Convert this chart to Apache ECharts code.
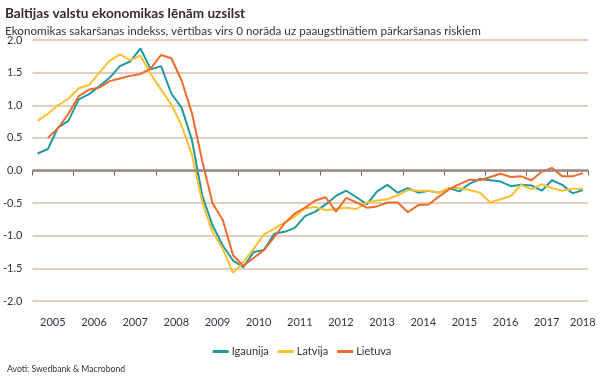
<!DOCTYPE html>
<html>
<head>
<meta charset="utf-8">
<script src="https://cdn.jsdelivr.net/npm/echarts@6/dist/echarts.min.js"></script>
<style>
  html, body { margin: 0; padding: 0; background: #fff; }
  #chart { width: 604px; height: 377px; }
</style>
</head>
<body>
<div id="chart"></div>
<script>
// 季度 2005Q1 - 2018Q2
const years = ['2005', '2006', '2007', '2008', '2009', '2010', '2011', '2012', '2013', '2014', '2015', '2016', '2017', '2018'];
const quarters = [];
years.forEach(y => {
  ['Q1', 'Q2', 'Q3', 'Q4'].forEach(q => quarters.push(y + '-' + q));
});
quarters.length = 54;

const igaunija = [
  0.26, 0.33, 0.66, 0.76, 1.09, 1.17, 1.29, 1.42, 1.60, 1.67, 1.87, 1.55, 1.60, 1.18,
  0.96, 0.47, -0.38, -0.84, -1.15, -1.38, -1.48, -1.25, -1.22, -0.97, -0.94, -0.88,
  -0.70, -0.63, -0.52, -0.39, -0.31, -0.41, -0.52, -0.32, -0.22, -0.34, -0.27, -0.34,
  -0.31, -0.34, -0.27, -0.32, -0.20, -0.13, -0.15, -0.17, -0.24, -0.22, -0.23, -0.31,
  -0.15, -0.22, -0.35, -0.30
];
const latvija = [
  0.76, 0.87, 1.00, 1.10, 1.26, 1.31, 1.50, 1.68, 1.78, 1.69, 1.76, 1.48, 1.24, 1.01,
  0.69, 0.24, -0.48, -0.94, -1.20, -1.57, -1.40, -1.20, -0.98, -0.89, -0.80, -0.71,
  -0.58, -0.56, -0.61, -0.59, -0.57, -0.59, -0.49, -0.46, -0.44, -0.38, -0.30, -0.31,
  -0.31, -0.34, -0.27, -0.27, -0.30, -0.34, -0.49, -0.44, -0.39, -0.22, -0.29, -0.21,
  -0.27, -0.31, -0.28, -0.28
];
const lietuva = [
  null, 0.50, 0.65, 0.87, 1.14, 1.24, 1.27, 1.37, 1.41, 1.45, 1.48, 1.56, 1.77, 1.72,
  1.38, 0.88, 0.15, -0.50, -0.76, -1.30, -1.46, -1.34, -1.22, -1.02, -0.81, -0.66,
  -0.57, -0.46, -0.41, -0.63, -0.42, -0.49, -0.57, -0.55, -0.49, -0.49, -0.64, -0.53,
  -0.52, -0.40, -0.29, -0.21, -0.14, -0.15, -0.10, -0.05, -0.10, -0.09, -0.15, -0.02,
  0.04, -0.09, -0.09, -0.04
];

const colors = ['#1f99a0', '#fdc02f', '#ef6b2b'];
const fontName = 'Lato';

function lineSeries(name, data) {
  return {
    name: name,
    type: 'line',
    data: data,
    symbol: 'none',
    lineStyle: { width: 2 }
  };
}

const myChart = echarts.init(document.getElementById('chart'));
myChart.setOption({
  color: colors,
  animation: false,
  textStyle: { fontFamily: fontName },
  title: [
    {
      text: 'Baltijas valstu ekonomikas lēnām uzsilst',
      left: 0, top: 2,
      textStyle: { fontSize: 13.6, fontWeight: 'bold', color: '#3b2a2a', fontFamily: fontName }
    },
    {
      text: 'Ekonomikas sakaršanas indekss, vērtības virs 0 norāda uz paaugstinātiem pārkaršanas riskiem',
      left: 0, top: 20,
      textStyle: { fontSize: 11.7, fontWeight: 'normal', color: '#333', fontFamily: fontName }
    },
    {
      text: 'Avoti: Swedbank & Macrobond',
      left: 2, top: 360,
      textStyle: { fontSize: 8.7, fontWeight: 'normal', color: '#333', fontFamily: fontName }
    }
  ],
  legend: {
    data: ['Igaunija', 'Latvija', 'Lietuva'],
    left: 'center',
    top: 341,
    icon: 'rect',
    itemWidth: 16,
    itemHeight: 3,
    itemGap: 9,
    textStyle: { fontSize: 11, color: '#333', padding: [0, 0, 0, -2] }
  },
  grid: { left: 28, right: 16, top: 40, bottom: 76 },
  xAxis: {
    type: 'category',
    data: quarters,
    boundaryGap: true,
    offset: 7,
    axisLine: { show: false },
    axisTick: {
      show: true,
      length: 5,
      interval: (index) => index % 4 === 0,
      lineStyle: { color: '#6b5b5b', width: 1 }
    },
    axisLabel: {
      interval: (index) => index % 4 === 1,
      margin: 9,
      fontSize: 11,
      color: '#3c3040',
      formatter: (value, index) => {
        const y = value.slice(0, 4);
        return index === 53 ? '{b|' + y + '}' : '{a|' + y + '}';
      },
      rich: {
        a: { fontSize: 11, color: '#3c3040', padding: [0, 0, 0, 10] },
        b: { fontSize: 11, color: '#3c3040' }
      }
    },
    splitLine: { show: false }
  },
  yAxis: {
    type: 'value',
    min: -2,
    max: 2,
    interval: 0.5,
    axisLine: { show: false },
    axisTick: { show: false },
    axisLabel: {
      fontSize: 11,
      color: '#3c3040',
      margin: 10,
      formatter: (v) => v.toFixed(1)
    },
    splitLine: { lineStyle: { color: '#e3cdbd', width: 2 } }
  },
  series: [
    Object.assign(lineSeries('Igaunija', igaunija), {
      markLine: {
        silent: true,
        symbol: 'none',
        label: { show: false },
        lineStyle: { color: '#9a8882', width: 2.5, type: 'solid' },
        data: [{ yAxis: 0 }]
      },
      z: 3
    }),
    lineSeries('Latvija', latvija),
    Object.assign(lineSeries('Lietuva', lietuva), { connectNulls: false })
  ]
});
</script>
</body>
</html>
